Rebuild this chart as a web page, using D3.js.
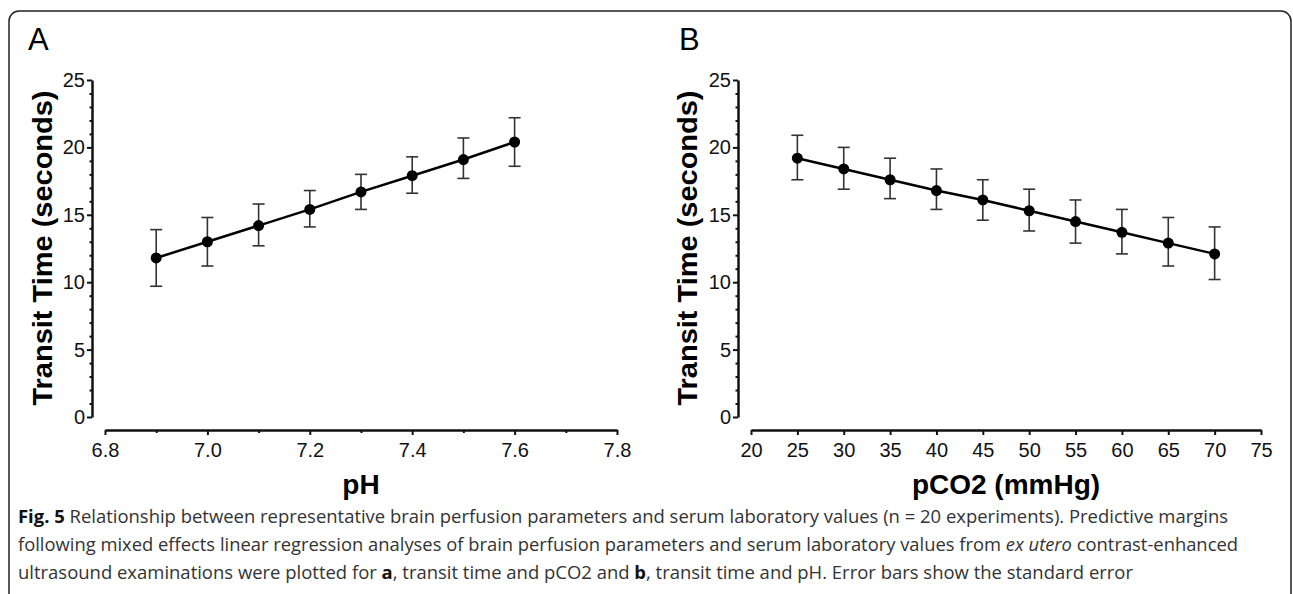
<!DOCTYPE html>
<html>
<head>
<meta charset="utf-8">
<script src="https://cdn.jsdelivr.net/npm/d3@7"></script>
<style>
    body { margin: 0; background: #fff; }
    svg { display: block; }
    .tick text { font-family: "Liberation Sans", Arial, sans-serif; font-size: 20px; fill: #111; }
</style>
</head>
<body>
<svg id="chart"></svg>
<script>
// Panel A: transit time vs pH
const phValues = [6.9, 7.0, 7.1, 7.2, 7.3, 7.4, 7.5, 7.6];
const phTransit = [11.8, 13.0, 14.2, 15.4, 16.7, 17.9, 19.1, 20.4];
const phLow = [9.7, 11.2, 12.7, 14.1, 15.4, 16.6, 17.7, 18.6];
const phHigh = [13.9, 14.8, 15.8, 16.8, 18.0, 19.3, 20.7, 22.2];
const phTicks = [6.8, 7.0, 7.2, 7.4, 7.6, 7.8];
const phMinorTicks = [6.9, 7.1, 7.3, 7.5, 7.7];

// Panel B: transit time vs pCO2
const co2Values = [25, 30, 35, 40, 45, 50, 55, 60, 65, 70];
const co2Transit = [19.2, 18.4, 17.6, 16.8, 16.1, 15.3, 14.5, 13.7, 12.9, 12.1];
const co2Low = [17.6, 16.9, 16.2, 15.4, 14.6, 13.8, 12.9, 12.1, 11.2, 10.2];
const co2High = [20.9, 20.0, 19.2, 18.4, 17.6, 16.9, 16.1, 15.4, 14.8, 14.1];
const co2Ticks = [20, 25, 30, 35, 40, 45, 50, 55, 60, 65, 70, 75];

// shared y axis
const yTicks = [0, 5, 10, 15, 20, 25];
const yMinorTicks = [1, 2, 3, 4, 6, 7, 8, 9, 11, 12, 13, 14, 16, 17, 18, 19, 21, 22, 23, 24];

const width = 1293;
const height = 594;
const svg = d3.select("#chart").attr("width", width).attr("height", height);

// figure frame
svg.append("rect")
    .attr("x", 9).attr("y", 11)
    .attr("width", 1282).attr("height", 640)
    .attr("rx", 10)
    .attr("fill", "none")
    .attr("stroke", "#222")
    .attr("stroke-width", 1.5);

function drawPanel(opts) {
    const g = svg.append("g");
    const x = d3.scaleLinear().domain(opts.xDomain).range(opts.xRange);
    const y = d3.scaleLinear().domain([0, 25]).range([417, 80]);

    // y axis (major + minor)
    g.append("g")
        .attr("transform", `translate(${opts.yAxisX},0)`)
        .call(d3.axisLeft(y).tickValues(yTicks).tickSize(5).tickSizeOuter(0).tickPadding(2));
    g.append("g")
        .attr("transform", `translate(${opts.yAxisX},0)`)
        .call(d3.axisLeft(y).tickValues(yMinorTicks).tickSize(2.5).tickFormat(""))
        .select(".domain").remove();

    // x axis (major + minor), detached below the plot
    g.append("g")
        .attr("transform", "translate(0,430)")
        .call(d3.axisBottom(x).tickValues(opts.xTicks).tickSize(5).tickSizeOuter(0)
            .tickPadding(8).tickFormat(opts.xFormat));
    if (opts.xMinor) {
        g.append("g")
            .attr("transform", "translate(0,430)")
            .call(d3.axisBottom(x).tickValues(opts.xMinor).tickSize(3).tickFormat(""))
            .select(".domain").remove();
    }

    g.selectAll(".domain").attr("stroke", "#111").attr("stroke-width", 2.5);
    g.selectAll(".tick line").attr("stroke", "#111").attr("stroke-width", 2);

    // axis titles
    g.append("text")
        .attr("transform", `translate(${opts.yTitleX},248) rotate(-90)`)
        .attr("text-anchor", "middle")
        .attr("dy", "0.35em")
        .attr("textLength", 315)
        .attr("lengthAdjust", "spacingAndGlyphs")
        .style("font-family", "'Liberation Sans', Arial, sans-serif")
        .style("font-weight", "bold")
        .style("font-size", "28px")
        .text("Transit Time (seconds)");

    g.append("text")
        .attr("x", (opts.xRange[0] + opts.xRange[1]) / 2)
        .attr("y", 494)
        .attr("text-anchor", "middle")
        .style("font-family", "'Liberation Sans', Arial, sans-serif")
        .style("font-weight", "bold")
        .style("font-size", "28px")
        .text(opts.xTitle);

    // panel letter
    g.append("text")
        .attr("x", opts.letterX)
        .attr("y", 50)
        .style("font-family", "'Liberation Sans', Arial, sans-serif")
        .style("font-size", "31px")
        .text(opts.letter);

    const data = opts.xs.map((v, i) => ({ x: v, y: opts.ys[i], lo: opts.lo[i], hi: opts.hi[i] }));

    // error bars
    const eb = g.append("g").attr("stroke", "#333").attr("stroke-width", 1.6);
    eb.selectAll(".err")
        .data(data)
        .enter()
        .append("line")
        .attr("x1", d => x(d.x)).attr("x2", d => x(d.x))
        .attr("y1", d => y(d.lo)).attr("y2", d => y(d.hi));
    eb.selectAll(".capHi")
        .data(data)
        .enter()
        .append("line")
        .attr("x1", d => x(d.x) - 6).attr("x2", d => x(d.x) + 6)
        .attr("y1", d => y(d.hi)).attr("y2", d => y(d.hi));
    eb.selectAll(".capLo")
        .data(data)
        .enter()
        .append("line")
        .attr("x1", d => x(d.x) - 6).attr("x2", d => x(d.x) + 6)
        .attr("y1", d => y(d.lo)).attr("y2", d => y(d.lo));

    // line
    g.append("path")
        .datum(data)
        .attr("fill", "none")
        .attr("stroke", "#000")
        .attr("stroke-width", 2.5)
        .attr("d", d3.line().x(d => x(d.x)).y(d => y(d.y)));

    // points
    g.selectAll(".pt")
        .data(data)
        .enter()
        .append("circle")
        .attr("cx", d => x(d.x))
        .attr("cy", d => y(d.y))
        .attr("r", 5.5)
        .attr("fill", "#000");
}

drawPanel({
    xDomain: [6.8, 7.8], xRange: [105, 617], yAxisX: 92,
    xTicks: phTicks, xMinor: phMinorTicks, xFormat: d3.format(".1f"),
    xTitle: "pH", yTitleX: 42, letter: "A", letterX: 28,
    xs: phValues, ys: phTransit, lo: phLow, hi: phHigh
});

drawPanel({
    xDomain: [20, 75], xRange: [751, 1261], yAxisX: 738,
    xTicks: co2Ticks, xMinor: null, xFormat: d3.format("d"),
    xTitle: "pCO2 (mmHg)", yTitleX: 687, letter: "B", letterX: 679,
    xs: co2Values, ys: co2Transit, lo: co2Low, hi: co2High
});

// caption
const caption = svg.append("g")
    .style("font-family", "'Open Sans', sans-serif")
    .style("font-size", "18px")
    .attr("fill", "#333");

const line1 = caption.append("text").attr("x", 18).attr("y", 523)
    .attr("textLength", 1210).attr("lengthAdjust", "spacingAndGlyphs");
line1.append("tspan").style("font-weight", "bold").attr("fill", "#111").text("Fig. 5");
line1.append("tspan").text(" Relationship between representative brain perfusion parameters and serum laboratory values (n = 20 experiments). Predictive margins");

const line2 = caption.append("text").attr("x", 18).attr("y", 551)
    .attr("textLength", 1220).attr("lengthAdjust", "spacingAndGlyphs");
line2.append("tspan").text("following mixed effects linear regression analyses of brain perfusion parameters and serum laboratory values from ");
line2.append("tspan").style("font-style", "italic").text("ex utero");
line2.append("tspan").text(" contrast-enhanced");

const line3 = caption.append("text").attr("x", 18).attr("y", 579)
    .attr("textLength", 1115).attr("lengthAdjust", "spacingAndGlyphs");
line3.append("tspan").text("ultrasound examinations were plotted for ");
line3.append("tspan").style("font-weight", "bold").attr("fill", "#111").text("a");
line3.append("tspan").text(", transit time and pCO2 and ");
line3.append("tspan").style("font-weight", "bold").attr("fill", "#111").text("b");
line3.append("tspan").text(", transit time and pH. Error bars show the standard error");
</script>
</body>
</html>
